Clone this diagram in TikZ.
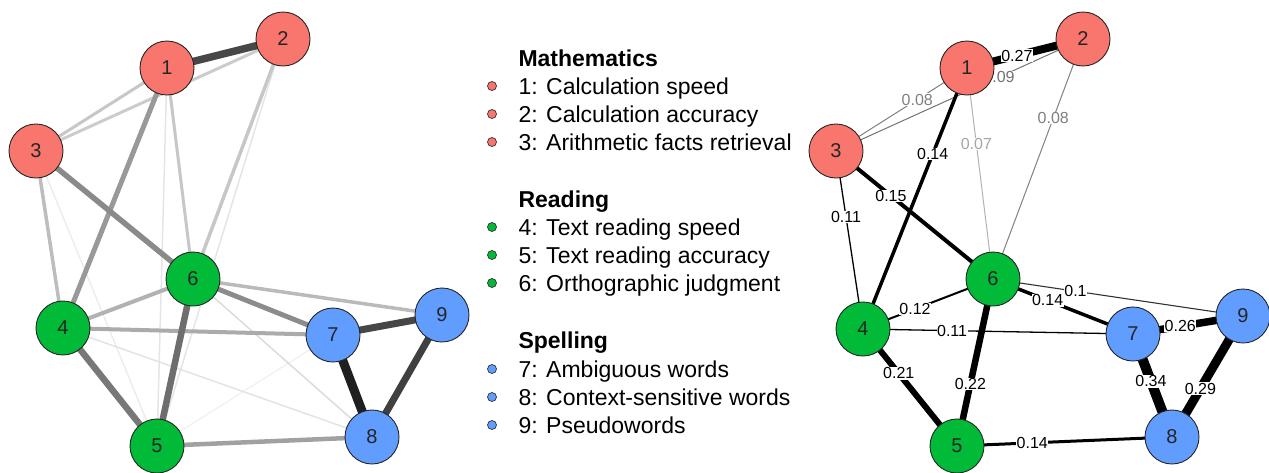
\documentclass[tikz,border=0pt]{standalone}
\usepackage{fontspec}
\setmainfont{Liberation Sans}
\usetikzlibrary{backgrounds}
\definecolor{cM}{HTML}{F8766D}
\definecolor{cR}{HTML}{00BA38}
\definecolor{cS}{HTML}{619CFF}
\begin{document}
\begin{tikzpicture}[x=1pt,y=-1pt,
  vnode/.style={circle, draw=black!85, line width=0.9pt, minimum size=54pt, inner sep=0pt,
    text=black!85, font=\fontsize{20}{20}\selectfont},
  wlab/.style={fill=white, inner sep=0.5pt, font=\fontsize{16}{16}\selectfont},
  legtext/.style={anchor=base west, font=\fontsize{23}{23}\selectfont},
  leghead/.style={anchor=base west, font=\bfseries\fontsize{23}{23}\selectfont},
  legdot/.style={circle, draw=black!80, line width=0.7pt, minimum size=9pt, inner sep=0pt}]
\useasboundingbox (0,0) rectangle (1269,472);

% ---------- left network ----------
\node[vnode, fill=cM] (a1) at (167,68) {1};
\node[vnode, fill=cM] (a2) at (283,39) {2};
\node[vnode, fill=cM] (a3) at (36,151) {3};
\node[vnode, fill=cR] (a4) at (63,328) {4};
\node[vnode, fill=cR] (a5) at (157,446) {5};
\node[vnode, fill=cR] (a6) at (193,279) {6};
\node[vnode, fill=cS] (a7) at (333,335) {7};
\node[vnode, fill=cS] (a8) at (372,437) {8};
\node[vnode, fill=cS] (a9) at (442,315) {9};

\begin{scope}[on background layer]
\foreach \u/\v/\w/\c in {a5/a7/1.2/6, a3/a5/1.5/7, a1/a5/1.5/10, a2/a5/1.5/10, a4/a8/1.5/11, a6/a8/1.5/14,
    a3/a2/3/20, a3/a1/3/22, a1/a6/3/22, a2/a6/3.5/22, a3/a4/3.5/26, a6/a9/3.5/27,
    a4/a6/4/30, a4/a7/4/33, a5/a8/4.5/37, a1/a4/5/40, a6/a7/5/45, a3/a6/5.5/46,
    a4/a5/6.5/53, a6/a5/6.5/57, a7/a9/7/72, a1/a2/7.5/72, a8/a9/7/75, a7/a8/9/88}
  \draw[line width=\w pt, black!\c] (\u.center) -- (\v.center);
\end{scope}

% ---------- right network ----------
\node[vnode, fill=cM] (b1) at (967,68) {1};
\node[vnode, fill=cM] (b2) at (1083,39) {2};
\node[vnode, fill=cM] (b3) at (836,151) {3};
\node[vnode, fill=cR] (b4) at (863,329) {4};
\node[vnode, fill=cR] (b5) at (957,446) {5};
\node[vnode, fill=cR] (b6) at (993,279) {6};
\node[vnode, fill=cS] (b7) at (1133,334) {7};
\node[vnode, fill=cS] (b8) at (1172,437) {8};
\node[vnode, fill=cS] (b9) at (1243,316) {9};

\begin{scope}[on background layer]
\foreach \u/\v/\w/\c/\t/\l/\lc in {
    b1/b6/1/30/0.36/0.07/35, b3/b1/1/50/0.62/0.08/50, b2/b6/1/50/0.33/0.08/50,
    b3/b2/1/55/0.66/0.09/55, b6/b9/1.1/80/0.33/0.1/100, b3/b4/1.3/100/0.37/0.11/100,
    b4/b7/1.3/100/0.33/0.11/100, b4/b6/2/100/0.4/0.12/100, b5/b8/3/100/0.35/0.14/100,
    b6/b7/3.5/100/0.39/0.14/100, b1/b4/3.5/100/0.33/0.14/100, b3/b6/4/100/0.35/0.15/100,
    b4/b5/6/100/0.38/0.21/100, b6/b5/6.5/100/0.63/0.22/100, b7/b9/7.5/100/0.43/0.26/100,
    b1/b2/8/100/0.43/0.27/100, b8/b9/9/100/0.4/0.29/100, b7/b8/10/100/0.46/0.34/100}
  \draw[line width=\w pt, black!\c] (\u.center) -- node[wlab, pos=\t, text=black!\lc] {\l} (\v.center);
\end{scope}

% ---------- legend ----------
\node[leghead] (hM) at (515,66) {Mathematics};
\node[legdot, fill=cM] (d1) at (492,86) {};
\node[legtext] (t1) at (515,94) {1: Calculation speed};
\node[legdot, fill=cM] (d2) at (492,114) {};
\node[legtext] (t2) at (515,122) {2: Calculation accuracy};
\node[legdot, fill=cM] (d3) at (492,142) {};
\node[legtext] (t3) at (515,150) {3: Arithmetic facts retrieval};

\node[leghead] (hR) at (515,207) {Reading};
\node[legdot, fill=cR] (d4) at (492,227) {};
\node[legtext] (t4) at (515,235) {4: Text reading speed};
\node[legdot, fill=cR] (d5) at (492,255) {};
\node[legtext] (t5) at (515,263) {5: Text reading accuracy};
\node[legdot, fill=cR] (d6) at (492,283) {};
\node[legtext] (t6) at (515,291) {6: Orthographic judgment};

\node[leghead] (hS) at (515,348) {Spelling};
\node[legdot, fill=cS] (d7) at (492,369) {};
\node[legtext] (t7) at (515,377) {7: Ambiguous words};
\node[legdot, fill=cS] (d8) at (492,397) {};
\node[legtext] (t8) at (515,405) {8: Context-sensitive words};
\node[legdot, fill=cS] (d9) at (492,425) {};
\node[legtext] (t9) at (515,433) {9: Pseudowords};
\end{tikzpicture}
\end{document}
